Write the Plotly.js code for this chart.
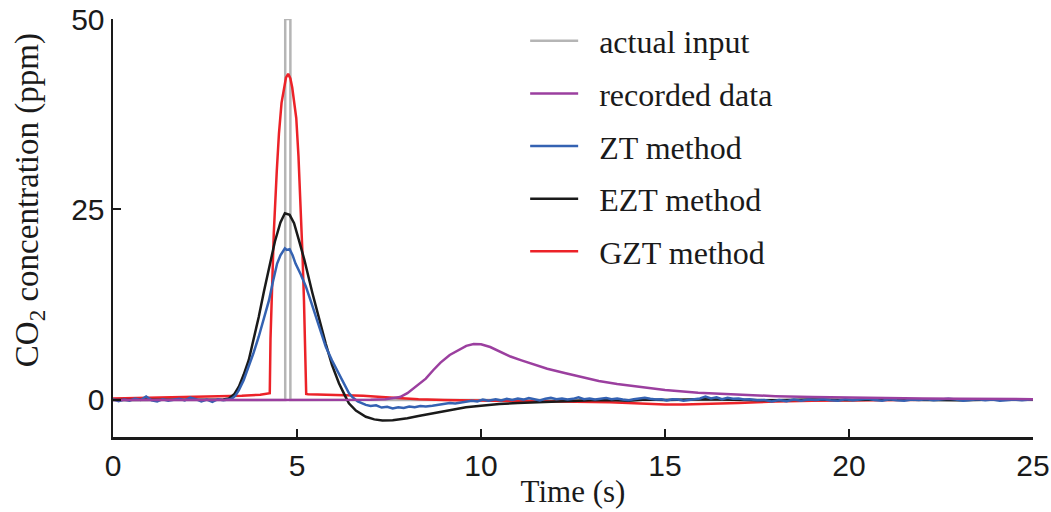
<!DOCTYPE html>
<html>
<head>
<meta charset="utf-8">
<script src="https://cdn.plot.ly/plotly-3.0.1.min.js"></script>
<style>
html,body{margin:0;padding:0;background:#fff;}
#chart{width:1051px;height:512px;}
</style>
</head>
<body>
<div id="chart"></div>
<script>
// ---- data ----
var seriesNames = ["actual input", "recorded data", "ZT method", "EZT method", "GZT method"];
var xTitle = "Time (s)";
var yTitle = "CO<sub>2</sub> concentration (ppm)";

var inputX = [0, 4.68, 4.68, 4.82, 4.82, 25];
var inputY = [0, 0, 50, 50, 0, 0];

var recordedX = [0, 3, 6, 7.0, 7.4, 7.8, 8.0, 8.25, 8.5, 8.7, 8.9, 9.15, 9.4, 9.6, 9.8, 10.0, 10.25, 10.5, 10.8, 11.1, 11.4, 11.8, 12.3, 12.8, 13.2, 13.7, 14.1, 14.6, 15.0, 15.9, 17, 18, 19, 20, 21, 22, 23, 24, 25];
var recordedY = [0, 0, 0, 0.02, 0.1, 0.38, 0.9, 1.8, 2.8, 3.9, 4.9, 5.9, 6.6, 7.1, 7.35, 7.3, 6.95, 6.4, 5.7, 5.2, 4.75, 4.1, 3.5, 2.9, 2.5, 2.1, 1.85, 1.55, 1.3, 0.95, 0.7, 0.5, 0.38, 0.3, 0.25, 0.2, 0.16, 0.13, 0.1];

var ztX = [0, 0.15, 0.3, 0.45, 0.6, 0.75, 0.9, 1.05, 1.2, 1.35, 1.5, 1.65, 1.8, 1.95, 2.1, 2.25, 2.4, 2.55, 2.7, 2.85, 3.0, 3.12,
  3.24, 3.33, 3.42, 3.55, 3.69, 3.82, 3.96, 4.1, 4.24, 4.35, 4.46, 4.55, 4.62, 4.67, 4.72, 4.8, 4.88, 4.96, 5.1, 5.24, 5.38, 5.51, 5.65, 5.78, 5.95, 6.14, 6.3, 6.41, 6.5, 6.65, 6.87, 7.0, 7.15, 7.3, 7.45, 7.6, 7.75, 7.9, 8.05, 8.2, 8.35, 8.5, 8.68, 8.85, 9.0, 9.15, 9.3, 9.45, 9.59, 9.75, 9.9,
  10.05, 10.2, 10.4, 10.55, 10.7, 10.85, 11.0, 11.15, 11.3, 11.45, 11.6, 11.75, 11.9, 12.05, 12.2, 12.35, 12.5, 12.65, 12.8, 12.95, 13.1, 13.25, 13.4, 13.55, 13.7, 13.85, 14.0, 14.15, 14.3, 14.45, 14.6, 14.75, 14.9,
  15.05, 15.2, 15.35, 15.5, 15.65, 15.8, 15.95, 16.1, 16.25, 16.4, 16.55, 16.7, 16.85, 17.0, 17.15, 17.3, 17.5, 17.7, 17.9, 18.1, 18.3, 18.5, 18.7, 18.9, 19.1, 19.3, 19.5, 19.7, 19.9,
  20.1, 20.3, 20.5, 20.7, 20.9, 21.1, 21.3, 21.5, 21.7, 21.9, 22.1, 22.3, 22.5, 22.7, 22.9, 23.1, 23.3, 23.5, 23.7, 23.9, 24.1, 24.3, 24.5, 24.7, 24.9, 25.0];
var ztY = [0.1, -0.15, 0.05, -0.1, 0.2, 0.0, 0.45, -0.05, -0.2, 0.1, -0.1, 0.05, 0.15, -0.05, 0.3, 0.1, -0.2, 0.05, -0.25, 0.1, -0.05, 0.05,
  0.2, 0.6, 1.3, 2.6, 4.4, 6.2, 8.3, 10.8, 13.1, 15.6, 17.9, 19.0, 19.6, 19.9, 19.7, 19.8, 19.0, 17.9, 16.5, 14.9, 12.9, 10.9, 8.9, 7.0, 5.2, 3.5, 2.0, 0.9, 0.4, -0.2, -0.65, -0.8, -0.7, -1.0, -0.9, -1.1, -0.95, -1.05, -0.85, -0.95, -0.8, -0.85, -0.75, -0.6, -0.55, -0.4, -0.45, -0.3, -0.22, -0.1, -0.2,
  0.05, -0.1, 0.1, -0.05, 0.15, 0.0, 0.2, 0.05, 0.25, 0.1, -0.05, 0.15, 0.3, 0.1, 0.2, 0.05, 0.15, 0.35, 0.1, 0.2, 0.05, 0.15, 0.25, 0.1, 0.2, 0.05, -0.05, 0.1, 0.2, 0.3, 0.15, 0.05, 0.1,
  -0.05, 0.1, 0.05, -0.1, 0.0, 0.1, 0.2, 0.45, 0.2, 0.35, 0.1, 0.3, 0.15, 0.2, 0.05, 0.1, -0.05, 0.0, -0.2, 0.0, -0.15, 0.05, -0.1, 0.05, 0.0, 0.1, -0.05, -0.1, 0.1,
  -0.05, 0.05, 0.15, 0.0, -0.1, 0.1, -0.05, -0.1, 0.05, 0.0, 0.1, -0.05, 0.05, 0.15, 0.05, -0.1, 0.0, 0.1, -0.05, 0.05, -0.1, 0.0, 0.05, -0.05, 0.05, 0.1];

var eztX = [0, 1, 2, 2.5, 3.0, 3.15, 3.3, 3.42, 3.55, 3.69, 3.82, 3.96, 4.1, 4.24, 4.4, 4.55, 4.67, 4.8, 4.92, 5.05, 5.2, 5.42, 5.6, 5.78, 5.95, 6.14, 6.3, 6.41, 6.6, 6.87, 7.1, 7.32, 7.6, 8.0, 8.3, 8.68, 9.1, 9.59, 10.0, 10.5, 11, 11.5, 12.3, 13, 13.5, 14, 14.5, 15, 16, 17, 18, 19, 20, 21, 22, 23, 24, 25];
var eztY = [0, 0, 0, 0, 0.05, 0.2, 0.8, 1.75, 3.3, 5.25, 7.9, 10.9, 14.2, 17.5, 20.8, 23.3, 24.5, 24.3, 23.2, 21, 18.4, 14, 10.6, 7.4, 4.6, 2.2, 0.6, -0.43, -1.4, -2.2, -2.55, -2.7, -2.65, -2.4, -2.1, -1.75, -1.35, -0.96, -0.75, -0.52, -0.4, -0.3, -0.13, -0.05, 0, -0.1, 0.05, 0, 0.1, 0.05, -0.05, 0.05, 0, 0.05, 0, -0.05, 0.05, 0.1];

var gztX = [0, 0.5, 1, 1.5, 2, 2.5, 3, 3.5, 4.0, 4.26, 4.28, 4.33, 4.37, 4.45, 4.51, 4.58, 4.645, 4.7, 4.76, 4.82, 4.87, 4.93, 4.98, 5.04, 5.10, 5.15, 5.19, 5.23, 5.25, 5.3, 5.8, 6.3, 6.8, 7.3, 7.8, 8.3, 9, 10, 11, 12, 13, 13.5, 14, 14.5, 15, 15.5, 16, 16.5, 17, 17.5, 18, 19, 20, 21, 22, 23, 24, 25];
var gztY = [0.2, 0.25, 0.3, 0.3, 0.35, 0.4, 0.45, 0.55, 0.7, 0.9, 8, 17, 22, 30, 35, 39, 41, 42.3, 42.8, 42.2, 41, 39, 37, 32, 26, 19, 13, 5, 0.8, 0.75, 0.7, 0.65, 0.55, 0.4, 0.25, 0.1, 0, -0.05, -0.1, -0.15, -0.2, -0.3, -0.4, -0.5, -0.6, -0.6, -0.55, -0.5, -0.4, -0.3, -0.2, -0.1, -0.05, 0, 0, 0.05, 0.05, 0.05];

var xTicks = [0, 5, 10, 15, 20, 25];
var yTicks = [0, 25, 50];

// ---- styles ----
var colors = {input: "#b5b5b5", recorded: "#9b3f9f", zt: "#3462b2", ezt: "#1a1a1a", gzt: "#ec2228"};
var lw = 2.5;
var legendPad = "\u2002"; // spacing between legend line and label

function tr(x, y, name, color, rank) {
  return {x: x, y: y, type: "scatter", mode: "lines", name: legendPad + name,
    legendgroup: name, legendrank: rank,
    line: {color: color, width: lw}, hoverinfo: "skip"};
}

var traces = [
  tr(inputX, inputY, seriesNames[0], colors.input, 1),
  tr(gztX, gztY, seriesNames[4], colors.gzt, 5),
  tr(eztX, eztY, seriesNames[3], colors.ezt, 4),
  tr(ztX, ztY, seriesNames[2], colors.zt, 3),
  tr(recordedX, recordedY, seriesNames[1], colors.recorded, 2)
];

var serif = "Liberation Serif, Times New Roman, serif";
var sans = "Liberation Sans, Arial, Helvetica, sans-serif";
var ink = "#1a1a1a";

var layout = {
  width: 1051, height: 512,
  margin: {l: 113, r: 18, t: 19, b: 75},
  paper_bgcolor: "#ffffff", plot_bgcolor: "#ffffff",
  showlegend: true,
  legend: {
    x: 0.448, y: 1.013, xanchor: "left", yanchor: "top",
    font: {family: serif, size: 32, color: ink},
    bgcolor: "rgba(0,0,0,0)", borderwidth: 0,
    tracegroupgap: 8, itemwidth: 48
  },
  xaxis: {
    range: [0, 25], tickvals: xTicks, ticktext: xTicks.map(String),
    ticks: "inside", ticklen: 8, tickwidth: 2, tickcolor: ink,
    showline: true, linecolor: ink, linewidth: 2.5,
    showgrid: false, zeroline: false,
    tickfont: {family: sans, size: 30, color: ink},
    title: {text: xTitle, font: {family: serif, size: 31, color: ink}, standoff: 0}
  },
  yaxis: {
    range: [-4.86, 50], tickvals: yTicks, ticktext: yTicks.map(String),
    ticks: "inside", ticklen: 8, tickwidth: 2, tickcolor: ink,
    showline: true, linecolor: ink, linewidth: 2.5,
    showgrid: false, zeroline: false,
    tickfont: {family: sans, size: 30, color: ink}
  },
  annotations: [{
    text: yTitle, textangle: -90, showarrow: false,
    xref: "paper", yref: "paper", x: -0.09, y: 0.567,
    xanchor: "center", yanchor: "middle",
    font: {family: serif, size: 33, color: ink}
  }]
};

Plotly.newPlot("chart", traces, layout, {staticPlot: true, displayModeBar: false});
</script>
</body>
</html>
